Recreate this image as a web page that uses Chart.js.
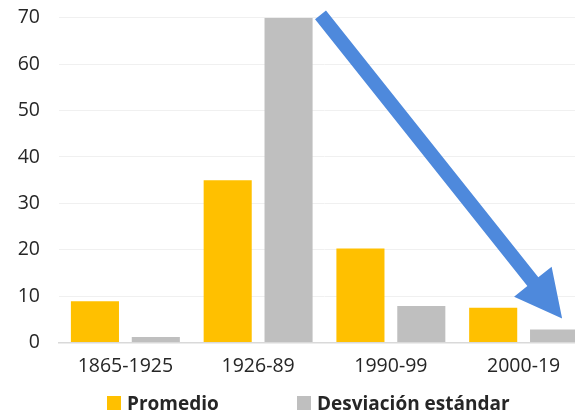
<!DOCTYPE html>
<html>
<head>
<meta charset="utf-8">
<script src="https://cdn.jsdelivr.net/npm/chart.js@4"></script>
<style>
  body { margin: 0; overflow: hidden; background: #fff; }
  #wrap { position: relative; width: 590px; height: 414px; overflow: hidden; }
  #chartBox { position: absolute; top: -13px; left: 0; width: 590px; height: 427px; }
  #legend { position: absolute; top: 390px; left: 0; width: 590px; height: 24px;
            font-family: "Open Sans", sans-serif; font-weight: bold; font-size: 19px; color: #262626; }
  .item { position: absolute; top: 0; display: flex; align-items: center; }
  .box { width: 14px; height: 14px; margin-right: 6px; }
</style>
</head>
<body>
<div id="wrap">
  <div id="chartBox"><canvas id="myChart"></canvas></div>
  <div id="legend"></div>
</div>
<script>
const periods = ['1865-1925', '1926-89', '1990-99', '2000-19'];
const seriesNames = ['Promedio', 'Desviación estándar'];
const promedio = [8.9, 35, 20.3, 7.5];
const desviacion = [1.2, 70, 7.9, 2.8];
const yTicks = [0, 10, 20, 30, 40, 50, 60, 70];

// arrow annotation, in category index / value units
const arrowFrom = { x: 1.47, y: 70.6 };
const arrowTo = { x: 3.29, y: 5.2 };

const colors = ['#FFC000', '#BFBFBF'];
const legendLeft = [107, 297];

// draws the big blue arrow on top of the bars
const arrowPlugin = {
  id: 'arrow',
  afterDatasetsDraw(chart) {
    const { ctx, scales: { x, y } } = chart;
    const x1 = x.getPixelForValue(arrowFrom.x), y1 = y.getPixelForValue(arrowFrom.y);
    const x2 = x.getPixelForValue(arrowTo.x), y2 = y.getPixelForValue(arrowTo.y);
    const ang = Math.atan2(y2 - y1, x2 - x1);
    const len = Math.hypot(x2 - x1, y2 - y1);
    const headLen = 47, headW = 48, shaftW = 14;
    ctx.save();
    ctx.translate(x1, y1);
    ctx.rotate(ang);
    ctx.fillStyle = '#4E89DC';
    ctx.beginPath();
    ctx.moveTo(0, -shaftW / 2);
    ctx.lineTo(len - headLen, -shaftW / 2);
    ctx.lineTo(len - headLen, -headW / 2);
    ctx.lineTo(len, 0);
    ctx.lineTo(len - headLen, headW / 2);
    ctx.lineTo(len - headLen, shaftW / 2);
    ctx.lineTo(0, shaftW / 2);
    ctx.closePath();
    ctx.fill();
    ctx.restore();
  }
};

const ctx = document.getElementById('myChart').getContext('2d');
const chart = new Chart(ctx, {
  type: 'bar',
  data: {
    labels: periods,
    datasets: [
      { label: seriesNames[0], data: promedio, backgroundColor: colors[0] },
      { label: seriesNames[1], data: desviacion, backgroundColor: colors[1] }
    ]
  },
  options: {
    responsive: true,
    maintainAspectRatio: false,
    animation: false,
    layout: { padding: { top: 0, left: 0, right: 0, bottom: 24 } },
    datasets: { bar: { categoryPercentage: 0.917, barPercentage: 0.79 } },
    plugins: { legend: { display: false }, tooltip: { enabled: false } },
    scales: {
      y: {
        min: 0, max: 70,
        afterBuildTicks: axis => { axis.ticks = yTicks.map(v => ({ value: v })); },
        afterFit: axis => { axis.width = 59; },
        ticks: { font: { family: 'Open Sans', size: 19.5 }, color: '#262626', padding: 19 },
        grid: { color: '#F0F0F0', drawTicks: false },
        border: { display: false }
      },
      x: {
        ticks: { font: { family: 'Open Sans', size: 19.5 }, color: '#262626', padding: 12 },
        grid: { display: false, drawTicks: false },
        border: { color: '#D9D9D9', width: 1.5 }
      }
    }
  },
  plugins: [arrowPlugin]
});

// html legend
const legendDiv = document.getElementById('legend');
seriesNames.forEach((name, i) => {
  const item = document.createElement('div');
  item.className = 'item';
  item.style.left = legendLeft[i] + 'px';
  item.innerHTML = `<span class="box" style="background:${colors[i]}"></span><span>${name}</span>`;
  legendDiv.appendChild(item);
});
</script>
</body>
</html>
